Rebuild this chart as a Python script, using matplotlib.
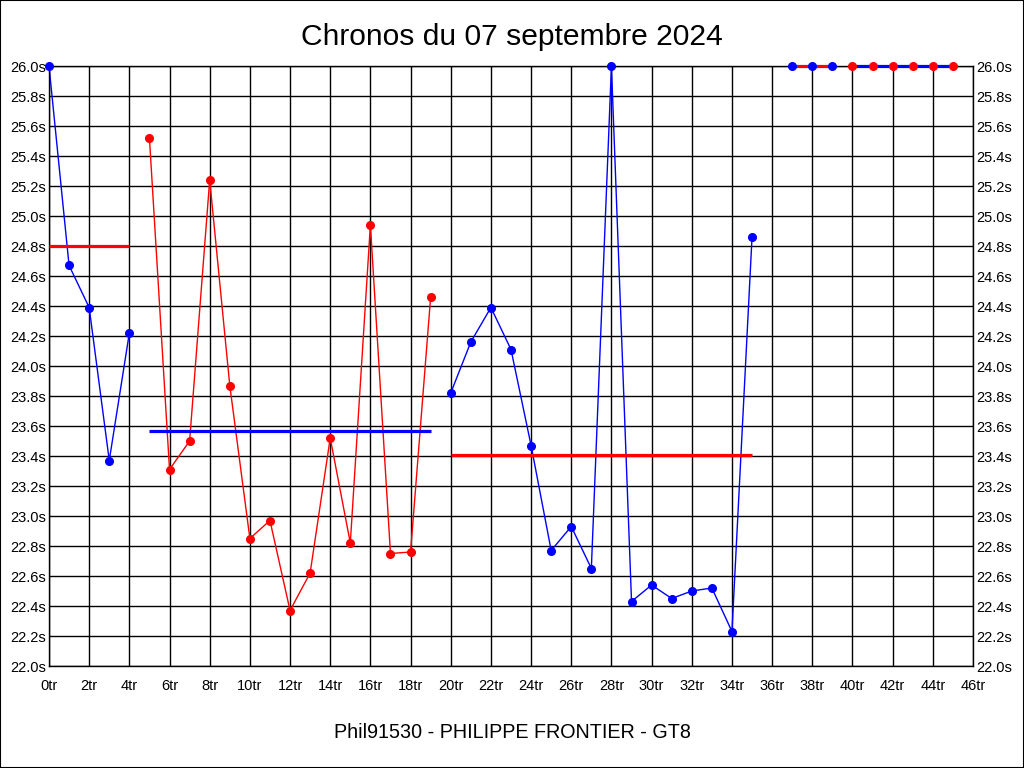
import matplotlib
matplotlib.use("Agg")
import matplotlib.pyplot as plt
from matplotlib.patches import Rectangle

plt.rcParams['font.family'] = ['Liberation Sans', 'DejaVu Sans']

title = "Chronos du 07 septembre 2024"
footer = "Phil91530 - PHILIPPE FRONTIER - GT8"

# relais 1 (bleu)
laps1 = [0, 1, 2, 3, 4]
times1 = [26.0, 24.67, 24.39, 23.37, 24.22]
avg1 = 24.80

# relais 2 (rouge)
laps2 = [5, 6, 7, 8, 9, 10, 11, 12, 13, 14, 15, 16, 17, 18, 19]
times2 = [25.52, 23.31, 23.50, 25.24, 23.87, 22.85, 22.97, 22.37, 22.62,
          23.52, 22.82, 24.94, 22.75, 22.76, 24.46]
avg2 = 23.57

# relais 3 (bleu)
laps3 = [20, 21, 22, 23, 24, 25, 26, 27, 28, 29, 30, 31, 32, 33, 34, 35]
times3 = [23.82, 24.16, 24.39, 24.11, 23.47, 22.77, 22.93, 22.65, 26.0,
          22.43, 22.54, 22.45, 22.50, 22.52, 22.23, 24.86]
avg3 = 23.41

# relais 4 (bleu) et 5 (rouge), hors echelle
laps4 = [37, 38, 39]
times4 = [26.0, 26.0, 26.0]
avg4 = 26.0
laps5 = [40, 41, 42, 43, 44, 45]
times5 = [26.0, 26.0, 26.0, 26.0, 26.0, 26.0]
avg5 = 26.0

runs = [
    (laps1, times1, avg1, 'blue', 'red'),
    (laps2, times2, avg2, 'red', 'blue'),
    (laps3, times3, avg3, 'blue', 'red'),
    (laps4, times4, avg4, 'blue', 'red'),
    (laps5, times5, avg5, 'red', 'blue'),
]

fig = plt.figure(figsize=(10.24, 7.68), dpi=100)
ax = fig.add_axes([49/1024, 1 - 666/768, (973-49)/1024, 600/768])

for laps, times, avg, col, avgcol in runs:
    ax.plot(laps, times, '-', color=col, lw=1.0, zorder=2, clip_on=False)
    ax.plot([laps[0], laps[-1]], [avg, avg], '-', color=avgcol, lw=2.3,
            zorder=3, solid_capstyle='butt', clip_on=False)
    ax.plot(laps, times, 'o', color=col, ms=5.5, zorder=4, clip_on=False)

ax.set_xlim(0, 46)
ax.set_ylim(22.0, 26.0)
xt = list(range(0, 47, 2))
yt = [22.0 + 0.2 * i for i in range(21)]
ax.set_xticks(xt)
ax.set_xticklabels(["%dtr" % v for v in xt])
ax.set_yticks(yt)
ax.set_yticklabels(["%.1fs" % v for v in yt])
ax.tick_params(axis='both', length=0, labelsize=10.5)
ax.tick_params(axis='x', pad=9)
ax.tick_params(axis='y', labelright=True, pad=2)
ax.grid(True, color='black', lw=1.0, zorder=1)
ax.set_axisbelow(True)
for s in ax.spines.values():
    s.set_linewidth(1.0)

fig.text(0.5, 1 - 37/768, title, ha='center', va='center', fontsize=21.6)
fig.text(0.5, 1 - 733/768, footer, ha='center', va='center', fontsize=14.2)
fig.patches.append(Rectangle((0, 0), 1, 1, transform=fig.transFigure,
                             fill=False, edgecolor='black', lw=1.5))

fig.savefig("out.png", dpi=100)
